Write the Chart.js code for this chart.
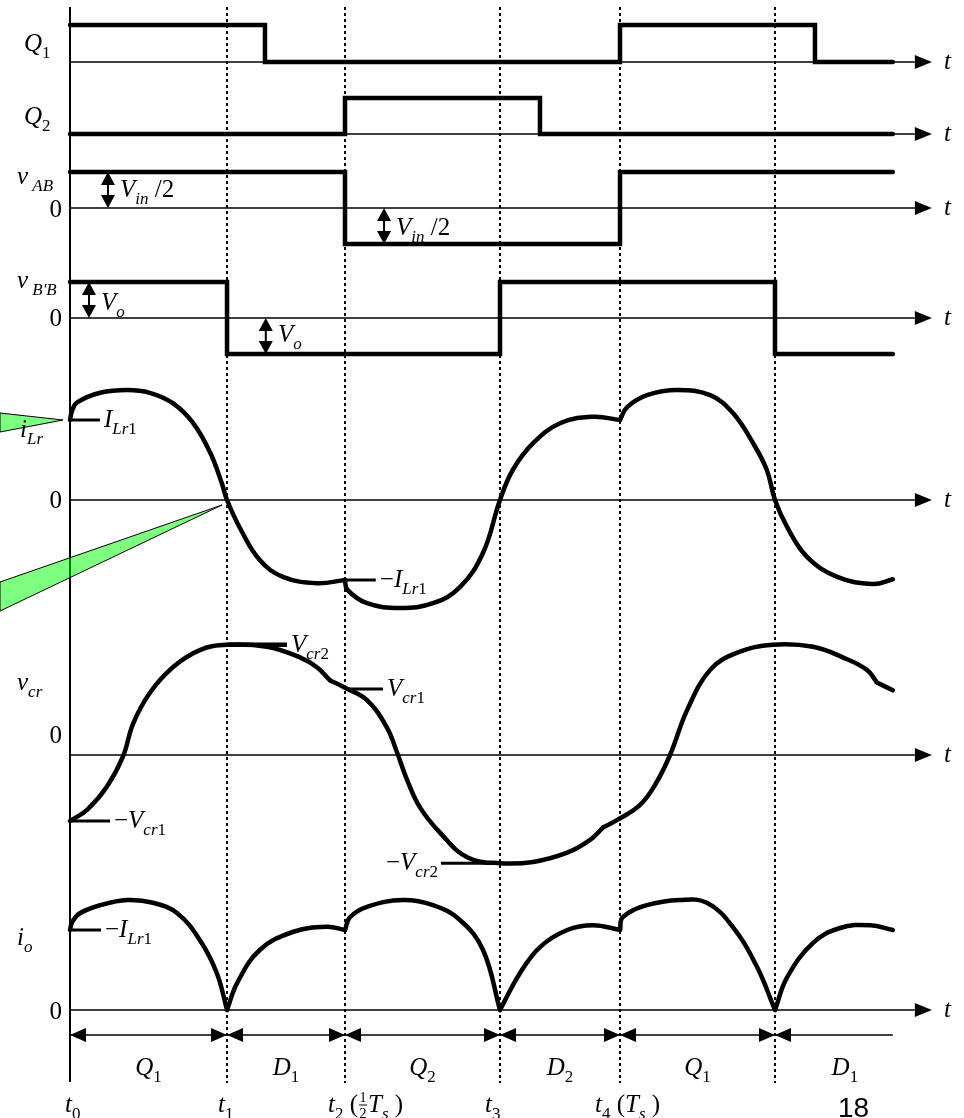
<!DOCTYPE html>
<html>
<head>
<meta charset="utf-8">
<script src="https://cdn.jsdelivr.net/npm/chart.js@4"></script>
<style>
  html, body { margin: 0; padding: 0; background: #fff; }
  canvas { display: block; }
</style>
</head>
<body>
<canvas id="waves" width="964" height="1118"></canvas>
<script>
// switching instants in units of Ts: t0, t1, t2, t3, t4 and the next t1
const tMarks = [0, 0.2855, 0.5, 0.7818, 1.0, 1.2818];
const tEnd = 1.496;
const tAxisEnd = 1.536;
const tArrowTip = 1.567;

// square waves: edge times and the level held after each edge
const q1Edges = [0, 0.3545, 1.0, 1.3545, tEnd];
const q1Levels = [1, 0, 1, 0];
const q2Edges = [0, 0.5, 0.8545, tEnd];
const q2Levels = [0, 1, 0];
const vabEdges = [0, 0.5, 1.0, tEnd];
const vabLevels = [1, -1, 1];          // +-Vin/2
const vbbEdges = [0, 0.2855, 0.7818, 1.2818, tEnd];
const vbbLevels = [1, -1, 1, -1];      // +-Vo

// resonant inductor current, per unit of ILr1
const iLrT = [0, 0.004, 0.013, 0.055, 0.104, 0.145, 0.187, 0.224, 0.255, 0.276,
  0.2855, 0.309, 0.345, 0.387, 0.449, 0.5,
  0.504, 0.54, 0.6, 0.66, 0.709, 0.751, 0.7818, 0.805, 0.842, 0.891, 0.951, 1.0,
  1.013, 1.049, 1.104, 1.164, 1.205, 1.242, 1.267, 1.2818, 1.304, 1.34, 1.395, 1.46, 1.496];
const iLrV = [1.0, 1.12, 1.22, 1.34, 1.375, 1.34, 1.21, 0.96, 0.59, 0.21,
  0, -0.35, -0.75, -0.96, -1.04, -1.0,
  -1.12, -1.29, -1.35, -1.29, -1.09, -0.66, 0, 0.375, 0.71, 0.96, 1.04, 1.0,
  1.16, 1.31, 1.375, 1.31, 1.09, 0.71, 0.375, 0, -0.34, -0.71, -0.96, -1.05, -0.99];
const iLrBreaks = [0.5, 1.0];

// resonant capacitor voltage, per unit of Vcr1
const vcrT = [0, 0.031, 0.067, 0.096, 0.115, 0.145, 0.187, 0.236, 0.2855, 0.358, 0.418, 0.449, 0.473,
  0.5, 0.54, 0.576, 0.595, 0.613, 0.636, 0.673, 0.722, 0.782, 0.842, 0.904, 0.945, 0.969,
  0.996, 1.036, 1.064, 1.091, 1.122, 1.164, 1.213, 1.278, 1.351, 1.405, 1.449, 1.467, 1.496];
const vcrV = [-1.0, -0.83, -0.48, -0.03, 0.48, 0.94, 1.33, 1.59, 1.67, 1.64, 1.48, 1.33, 1.13,
  1.02, 0.83, 0.42, 0.03, -0.38, -0.79, -1.18, -1.55, -1.64, -1.62, -1.48, -1.29, -1.1,
  -0.98, -0.76, -0.45, 0, 0.68, 1.29, 1.55, 1.67, 1.64, 1.48, 1.29, 1.1, 0.98];
const vcrBreaks = [0.473, 0.969, 1.467];

// output current, per unit of ILr1
const ioT = [0, 0.004, 0.018, 0.055, 0.104, 0.151, 0.195, 0.236, 0.267, 0.2855,
  0.304, 0.345, 0.405, 0.467, 0.5,
  0.509, 0.54, 0.605, 0.66, 0.709, 0.751, 0.7818,
  0.818, 0.855, 0.904, 0.951, 1.0,
  1.005, 1.049, 1.109, 1.158, 1.205, 1.249, 1.2818,
  1.304, 1.351, 1.4, 1.455, 1.496];
const ioV = [1.0, 1.1, 1.21, 1.31, 1.375, 1.34, 1.21, 0.875, 0.46, 0,
  0.34, 0.75, 0.975, 1.04, 1.0,
  1.16, 1.29, 1.375, 1.31, 1.125, 0.75, 0,
  0.46, 0.79, 1.0, 1.06, 1.0,
  1.16, 1.31, 1.375, 1.34, 1.04, 0.54, 0,
  0.41, 0.84, 1.025, 1.06, 1.0];
const ioBreaks = [0.2855, 0.5, 0.7818, 1.0, 1.2818];

const intervalNames = [['Q', '1'], ['D', '1'], ['Q', '2'], ['D', '2'], ['Q', '1'], ['D', '1']];

// ---- layout ----
const W = 964, H = 1118;
const originX = 70, pxPerTs = 550;
const panels = {
  q1: { base: 62, gain: 37 },
  q2: { base: 134, gain: 36 },
  vab: { base: 208, gain: 36 },
  vbb: { base: 318, gain: 36 },
  ilr: { base: 500, gain: 80 },
  vcr: { base: 755, gain: 66 },
  io: { base: 1010, gain: 80 }
};
const SERIF = '"Liberation Serif", "Times New Roman", serif';

function stepPoints(edges, levels) {
  const pts = [];
  levels.forEach((lv, i) => {
    pts.push({ x: edges[i], y: lv });
    pts.push({ x: edges[i + 1], y: lv });
  });
  return pts;
}

function splitAt(ts, vs, breaks) {
  const segs = [];
  let cur = [];
  ts.forEach((t, i) => {
    cur.push({ x: t, y: vs[i] });
    if (breaks.includes(t)) {
      segs.push(cur);
      cur = [{ x: t, y: vs[i] }];
    }
  });
  segs.push(cur);
  return segs.filter(s => s.length > 1);
}

const datasets = [];
function line(axis, data, extra) {
  datasets.push(Object.assign({
    yAxisID: axis, data: data, showLine: true, borderColor: '#000',
    borderWidth: 4.5, pointRadius: 0, fill: false, tension: 0,
    borderCapStyle: 'round', borderJoinStyle: 'miter'
  }, extra || {}));
}

// frame: vertical axis, dotted instants, zero lines, interval bar
line('page', [{ x: 0, y: 7 }, { x: 0, y: 1082 }], { borderWidth: 2, borderCapStyle: 'butt' });
tMarks.slice(1).forEach(t => {
  line('page', [{ x: t, y: 7 }, { x: t, y: 1083 }], { borderWidth: 2, borderDash: [3, 3], borderCapStyle: 'butt' });
});
Object.keys(panels).forEach(k => {
  line(k, [{ x: 0, y: 0 }, { x: tAxisEnd, y: 0 }], { borderWidth: 1.4, borderCapStyle: 'butt' });
});
line('page', [{ x: 0, y: 1035 }, { x: tEnd, y: 1035 }], { borderWidth: 1.6, borderCapStyle: 'butt' });

// waveforms
line('q1', stepPoints(q1Edges, q1Levels));
line('q2', stepPoints(q2Edges, q2Levels));
line('vab', stepPoints(vabEdges, vabLevels));
line('vbb', stepPoints(vbbEdges, vbbLevels));
const smooth = { tension: 0.4, borderJoinStyle: 'round' };
splitAt(iLrT, iLrV, iLrBreaks).forEach(s => line('ilr', s, smooth));
splitAt(vcrT, vcrV, vcrBreaks).forEach(s => line('vcr', s, smooth));
splitAt(ioT, ioV, ioBreaks).forEach(s => line('io', s, smooth));

const scales = {
  x: { type: 'linear', display: false, bounds: 'data', min: -originX / pxPerTs, max: (W - originX) / pxPerTs },
  page: { type: 'linear', display: false, bounds: 'data', min: 0, max: H, reverse: true }
};
Object.keys(panels).forEach(k => {
  const p = panels[k];
  scales[k] = { type: 'linear', display: false, bounds: 'data', min: (p.base - H) / p.gain, max: p.base / p.gain };
});

// ---- text with subscripts ----
function fontFor(kind) {
  if (kind === 'i') return 'italic 25px ' + SERIF;
  if (kind === 'r') return '25px ' + SERIF;
  if (kind === 's') return '17px ' + SERIF;
  if (kind === 'S') return 'italic 17px ' + SERIF;
  return '14px ' + SERIF;
}
function drawRich(ctx, parts, x, y, align) {
  const widths = parts.map(([txt, kind]) => {
    ctx.font = fontFor(kind);
    return kind === 'f' ? ctx.measureText('2').width + 3 : ctx.measureText(txt).width;
  });
  const total = widths.reduce((a, b) => a + b, 0);
  let cx = align === 'right' ? x - total : align === 'center' ? x - total / 2 : x;
  ctx.textAlign = 'left';
  ctx.textBaseline = 'alphabetic';
  parts.forEach(([txt, kind], i) => {
    ctx.font = fontFor(kind);
    if (kind === 'f') {
      const [n, d] = txt.split('/');
      const mx = cx + widths[i] / 2;
      ctx.textAlign = 'center';
      ctx.fillText(n, mx, y - 10);
      ctx.fillText(d, mx, y + 6);
      ctx.fillRect(cx + 1, y - 7.5, widths[i] - 2, 1);
      ctx.textAlign = 'left';
    } else {
      const dy = (kind === 's' || kind === 'S') ? 7 : 0;
      ctx.fillText(txt, cx, y + dy);
    }
    cx += widths[i];
  });
}

function tri(ctx, pts) {
  ctx.beginPath();
  ctx.moveTo(pts[0][0], pts[0][1]);
  ctx.lineTo(pts[1][0], pts[1][1]);
  ctx.lineTo(pts[2][0], pts[2][1]);
  ctx.closePath();
  ctx.fill();
}

const decor = {
  id: 'decor',
  afterDatasetsDraw(chart) {
    const ctx = chart.ctx;
    const sc = chart.scales;
    const X = t => sc.x.getPixelForValue(t);
    const Y = (axis, v) => sc[axis].getPixelForValue(v);
    ctx.save();
    ctx.fillStyle = '#000';
    ctx.strokeStyle = '#000';

    // axis arrowheads and t labels
    const tipX = X(tArrowTip);
    Object.keys(panels).forEach(k => {
      const y = Y(k, 0);
      tri(ctx, [[tipX, y], [tipX - 17, y - 7], [tipX - 17, y + 7]]);
      drawRich(ctx, [['t', 'i']], 944, y + 7, 'left');
    });

    // interval bar arrowheads
    const barY = Y('page', 1035);
    const ends = tMarks.concat([tEnd]);
    for (let i = 0; i < tMarks.length; i++) {
      const a = X(ends[i]);
      tri(ctx, [[a, barY], [a + 16, barY - 7], [a + 16, barY + 7]]);
      if (i < tMarks.length - 1) {
        const b = X(ends[i + 1]);
        tri(ctx, [[b, barY], [b - 16, barY - 7], [b - 16, barY + 7]]);
      }
    }
    const labelEnds = tMarks.concat([tAxisEnd]);
    intervalNames.forEach((nm, i) => {
      const cx = (X(labelEnds[i]) + X(labelEnds[i + 1])) / 2;
      drawRich(ctx, [[nm[0], 'i'], [nm[1], 's']], cx, 1075, 'center');
    });

    // double arrows marking amplitudes
    function dArrow(x, y1, y2) {
      const top = Math.min(y1, y2), bot = Math.max(y1, y2);
      ctx.lineWidth = 2;
      ctx.beginPath();
      ctx.moveTo(x, top + 6);
      ctx.lineTo(x, bot - 6);
      ctx.stroke();
      tri(ctx, [[x, top], [x - 7, top + 13], [x + 7, top + 13]]);
      tri(ctx, [[x, bot], [x - 7, bot - 13], [x + 7, bot - 13]]);
    }
    dArrow(X(0.069), Y('vab', 1), Y('vab', 0));
    dArrow(X(0.571), Y('vab', 0), Y('vab', -1));
    dArrow(X(0.0345), Y('vbb', 1), Y('vbb', 0));
    dArrow(X(0.356), Y('vbb', 0), Y('vbb', -1));
    const vin = [['V', 'i'], ['in', 'S'], [' /2', 'r']];
    drawRich(ctx, vin, 120, 197, 'left');
    drawRich(ctx, vin, 396, 235, 'left');
    const vo = [['V', 'i'], ['o', 'S']];
    drawRich(ctx, vo, 101, 310, 'left');
    drawRich(ctx, vo, 278, 342, 'left');

    // level tags
    function tag(axis, v, t1, t2, parts, lw, textX, align) {
      const y = Y(axis, v);
      ctx.lineWidth = lw;
      ctx.lineCap = 'butt';
      ctx.beginPath();
      ctx.moveTo(X(t1), y);
      ctx.lineTo(X(t2), y);
      ctx.stroke();
      drawRich(ctx, parts, textX === undefined ? X(t2) + 4 : textX, y + 7, align || 'left');
    }
    tag('ilr', 1, 0, 0.0545, [['I', 'i'], ['Lr', 'S'], ['1', 's']], 3);
    tag('ilr', -1, 0.5, 0.556, [['\u2212', 'r'], ['I', 'i'], ['Lr', 'S'], ['1', 's']], 3);
    tag('vcr', 1.67, 0.2855, 0.3945, [['V', 'i'], ['cr', 'S'], ['2', 's']], 4.5);
    tag('vcr', 1.0, 0.5036, 0.569, [['V', 'i'], ['cr', 'S'], ['1', 's']], 3);
    tag('vcr', -1.0, 0, 0.0727, [['\u2212', 'r'], ['V', 'i'], ['cr', 'S'], ['1', 's']], 3);
    tag('vcr', -1.64, 0.6745, 0.7818, [['\u2212', 'r'], ['V', 'i'], ['cr', 'S'], ['2', 's']], 3, 438, 'right');
    tag('io', 1, 0, 0.0564, [['\u2212', 'r'], ['I', 'i'], ['Lr', 'S'], ['1', 's']], 3);

    // callout wedges
    ctx.fillStyle = 'rgba(0, 255, 0, 0.5)';
    ctx.lineWidth = 1;
    [[[0, 413], [63, 420], [0, 432]], [[0, 582], [222, 505], [0, 611]]].forEach(p => {
      ctx.beginPath();
      ctx.moveTo(p[0][0], p[0][1]);
      ctx.lineTo(p[1][0], p[1][1]);
      ctx.lineTo(p[2][0], p[2][1]);
      ctx.closePath();
      ctx.fill();
      ctx.stroke();
    });
    ctx.fillStyle = '#000';

    // signal names and zero marks
    drawRich(ctx, [['Q', 'i'], ['1', 's']], 24, 51, 'left');
    drawRich(ctx, [['Q', 'i'], ['2', 's']], 24, 124, 'left');
    drawRich(ctx, [['v', 'i'], [' AB', 'S']], 17, 184, 'left');
    drawRich(ctx, [['v', 'i'], [" B'B", 'S']], 17, 288, 'left');
    drawRich(ctx, [['i', 'i'], ['Lr', 'S']], 20, 437, 'left');
    drawRich(ctx, [['v', 'i'], ['cr', 'S']], 17, 690, 'left');
    drawRich(ctx, [['i', 'i'], ['o', 'S']], 17, 945, 'left');
    [['vab', 217], ['vbb', 326], ['ilr', 508], ['vcr', 743], ['io', 1019]].forEach(([k, y]) => {
      drawRich(ctx, [['0', 'r']], 62, y, 'right');
    });

    // time instants
    const tLabels = [
      [[['t', 'i'], ['0', 's']], -5],
      [[['t', 'i'], ['1', 's']], -9],
      [[['t', 'i'], ['2', 's'], [' (', 'r'], ['1/2', 'f'], ['T', 'i'], ['s', 'S'], [' )', 'r']], -17],
      [[['t', 'i'], ['3', 's']], -15],
      [[['t', 'i'], ['4', 's'], [' (', 'r'], ['T', 'i'], ['s', 'S'], [' )', 'r']], -25]
    ];
    tLabels.forEach(([parts, dx], i) => drawRich(ctx, parts, X(tMarks[i]) + dx, 1112, 'left'));

    ctx.font = '28px "Liberation Sans", Arial, sans-serif';
    ctx.textAlign = 'left';
    ctx.fillText('18', 838, 1117);
    ctx.restore();
  }
};

new Chart(document.getElementById('waves'), {
  type: 'scatter',
  data: { datasets: datasets },
  options: {
    responsive: false,
    animation: false,
    events: [],
    layout: { padding: 0 },
    scales: scales,
    plugins: { legend: { display: false }, tooltip: { enabled: false } }
  },
  plugins: [decor]
});
</script>
</body>
</html>
